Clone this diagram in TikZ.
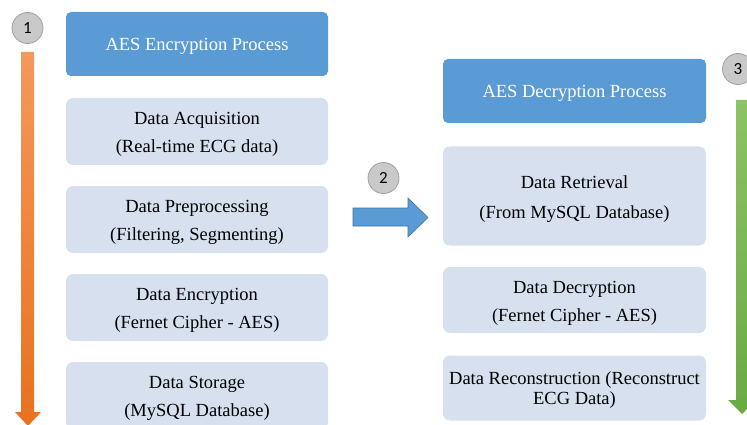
\documentclass[tikz,border=0pt]{standalone}
\usepackage{fontspec}
\setmainfont{Liberation Serif}
\newfontfamily\numfont{Carlito}
\definecolor{hdrblue}{RGB}{91,155,213}
\definecolor{boxfill}{RGB}{214,224,238}
\definecolor{circfill}{RGB}{201,201,201}
\definecolor{circline}{RGB}{160,160,160}
\definecolor{orgtop}{RGB}{244,152,92}
\definecolor{orgbot}{RGB}{232,113,30}
\definecolor{grntop}{RGB}{140,196,100}
\definecolor{grnbot}{RGB}{106,170,66}
\definecolor{arrline}{RGB}{65,113,156}
\begin{document}
\begin{tikzpicture}[x=1pt,y=-1pt,
  hdrbox/.style={fill=hdrblue, rounded corners=5pt, inner sep=0pt},
  stepbox/.style={fill=boxfill, rounded corners=7pt, inner sep=0pt},
  hdrtext/.style={inner sep=0pt, text=white, font=\fontsize{18.5}{28}\selectfont, align=center},
  steptext/.style={inner sep=0pt, font=\fontsize{18.5}{28}\selectfont, align=center},
  numcirc/.style={circle, fill=circfill, draw=circline, line width=0.8pt,
    minimum size=31pt, inner sep=0pt, font=\numfont\fontsize{17}{17}\selectfont}]
\clip (0,0) rectangle (747,425);
\fill[white] (0,0) rectangle (747,425);

% left column
\node[hdrbox, minimum width=262pt, minimum height=64pt] (lh) at (197,44) {};
\node[hdrtext] (lht) at ([yshift=-2pt]lh.center) {AES Encryption Process};
\node[stepbox, minimum width=262pt, minimum height=67pt] (l1) at (197,131.5) {};
\node[steptext] (l1t) at ([yshift=-3pt]l1.center) {Data Acquisition\\(Real-time ECG data)};
\node[stepbox, minimum width=262pt, minimum height=67pt] (l2) at (197,219.5) {};
\node[steptext] (l2t) at ([yshift=-3pt]l2.center) {Data Preprocessing\\(Filtering, Segmenting)};
\node[stepbox, minimum width=262pt, minimum height=67pt] (l3) at (197,307.5) {};
\node[steptext] (l3t) at ([yshift=-3pt]l3.center) {Data Encryption\\(Fernet Cipher - AES)};
\node[stepbox, minimum width=262pt, minimum height=67pt] (l4) at (197,395.5) {};
\node[steptext] (l4t) at ([yshift=-3pt]l4.center) {Data Storage\\(MySQL Database)};

% right column
\node[hdrbox, minimum width=263pt, minimum height=64pt] (rh) at (574.5,91) {};
\node[hdrtext] (rht) at ([yshift=-2pt]rh.center) {AES Decryption Process};
\node[stepbox, minimum width=263pt, minimum height=99pt] (r1) at (574.5,196) {};
\node[steptext] (r1t) at ([yshift=-3pt]r1.center) {Data Retrieval\\[2pt](From MySQL Database)};
\node[stepbox, minimum width=263pt, minimum height=66pt] (r2) at (574.5,300) {};
\node[steptext] (r2t) at ([yshift=-3pt]r2.center) {Data Decryption\\(Fernet Cipher - AES)};
\node[stepbox, minimum width=263pt, minimum height=65pt] (r3) at (574.5,388) {};
\node[steptext, font=\fontsize{18.5}{20}\selectfont] (r3t) at ([yshift=-2pt]r3.center) {Data Reconstruction (Reconstruct\\ECG Data)};

% orange arrow
\shade[top color=orgtop, bottom color=orgbot]
  (21,52) -- (34,52) -- (34,412) -- (41,412) -- (28,426) -- (15,412) -- (21,412) -- cycle;
% green arrow
\shade[top color=grntop, bottom color=grnbot]
  (736,100) -- (750,100) -- (750,400) -- (756,400) -- (742,414) -- (728,400) -- (736,400) -- cycle;
% blue arrow
\filldraw[fill=hdrblue, draw=arrline, line width=0.6pt]
  (353,208) -- (408,208) -- (408,198) -- (428,217.5) -- (408,237) -- (408,226) -- (353,226) -- cycle;

% number circles
\node[numcirc] (c1) at (27.5,28) {1};
\node[numcirc] (c2) at (383.5,178) {2};
\node[numcirc] (c3) at (738,69) {3};
\end{tikzpicture}
\end{document}
